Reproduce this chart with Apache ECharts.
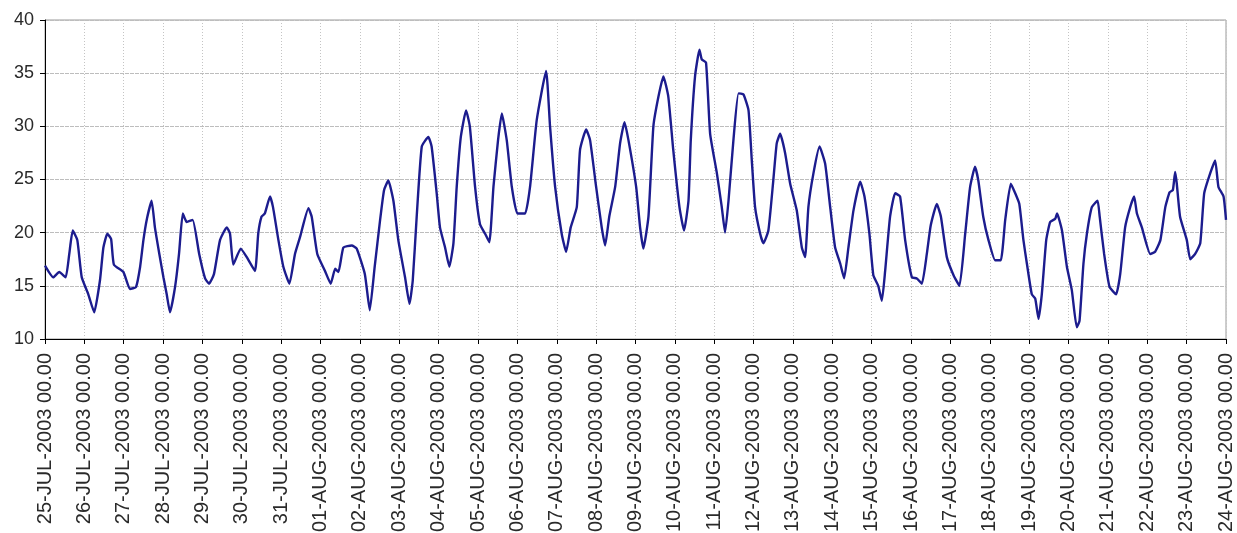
<!DOCTYPE html>
<html><head><meta charset="utf-8">
<script src="https://cdn.jsdelivr.net/npm/echarts@6/dist/echarts.min.js"></script>
<style>html,body{margin:0;padding:0;background:#fff}#c{width:1237px;height:533px}</style>
</head><body><div id="c"></div>
<script>
// hours since 25-JUL-2003 00.00
const hours = [0,5,8.7,12.6,14.8,16.9,19.7,22.4,26.4,30,33.5,35.6,38,40.3,42,47.8,51.8,55.5,58,60,62,65,67,69.7,72.2,74.2,76.2,79.3,81.7,84,86.4,90,94,97.6,100,103,106.7,110.8,112.8,114.8,119.3,
123,128,130,132,134,137.2,139,142.3,145.3,149,152.4,155.5,160.6,162.6,166,170.7,174.2,176.9,178.9,181.9,187,190,195,198,201,204.3,206.7,209.3,212.4,215.4,219.5,222.2,224.2,226.6,229.7,233.7,235.7,238.8,240.8,243.9,246.5,249,251,253.5,256.7,259,262.2,265.2,
268.3,270.9,273.4,276.2,278.5,281.5,284.6,288,292.7,295.7,299.8,305.5,307.9,311,315,317.7,320.5,324.2,326.2,329.9,332.3,336,339.4,341.5,344,347.6,350.6,353.3,355.7,360.4,362.8,364.8,367.9,370.9,374,377,380,383,386.8,389.6,392.3,393.7,396.3,399,400.4,403,405.5,409.6,412.6,
414.6,416.7,419.7,422.8,425.8,428.9,430.9,432.9,436,438,441,444,446.1,448.2,451.2,454.3,458.3,461.4,463.4,465.4,468.5,472.2,475.6,478.7,481.7,484.8,487.2,489.8,492.9,497,499.6,502.6,505,508,510.2,512.2,515.2,518.3,521.3,524.4,528.5,531.5,534.6,537.6,540,543.7,546.2,549.8,553.9,557.5,
561,564,567,569,572,575.2,579.3,582.7,585.4,588.8,591.5,594,596.5,598.6,601.6,603.7,605.7,607.7,610.4,612.8,615.9,617,620,623,626,629,630.7,633.1,635.2,638.2,641.7,643,645.7,649,653,655.5,658.5,661.6,664,665.7,668.7,673.8,676.8,680,683,685.6,687.6,689,690,692,696.1,698.2,701.2,704.3,706.7,710.4,713.4,715.4,718.5,720];
const temps = [16.9,15.8,16.3,15.8,18,20.2,19.3,15.8,14.2,12.5,15.5,18.6,19.9,19.4,17,16.3,14.7,14.9,16.8,19.3,21.2,23,20.5,18,15.8,14.2,12.5,14.9,18,21.8,21,21.2,18,15.7,15.2,16.1,19.3,20.5,19.9,17,18.5,
17.7,16.4,19.9,21.5,21.8,23.4,22.4,19.3,16.8,15.2,18,19.6,22.3,21.5,18,16.4,15.2,16.6,16.3,18.6,18.8,18.5,16.1,12.7,16.8,21.2,24,24.9,23,19.3,15.8,13.3,15.5,21.5,28.1,29,28.1,23.7,20.5,18.6,16.8,19,24.3,29,31.5,30,24.3,20.8,
19.9,19.1,24.3,28.7,31.2,28.7,24.3,21.8,21.8,24.3,30.6,35.2,30,24.3,19.9,18.2,20.5,22.4,27.8,29.7,28.7,24.3,20.5,18.8,21.5,24.3,28.4,30.4,28.7,24.3,20.5,18.5,21.5,30,32.8,34.7,32.8,27.8,22.4,20.2,23,28.7,34.7,37.2,36.3,36,29.3,25.6,22.4,
20,23,28.7,33.1,33,31.5,26.8,22.4,19.9,19,20.2,24.9,28.4,29.3,27.5,24.6,22.1,18.6,17.7,22.4,25.6,28.1,26.5,22.4,18.6,17.1,15.7,18.6,22.1,24.8,23.4,19.9,16,15,13.6,16.4,21.5,23.7,23.4,19.3,15.8,15.7,15.2,18,20.7,22.7,21.5,17.7,16,15,
19.9,24.3,26.2,24.9,21.5,19.3,17.4,17.4,21.2,24.6,23.7,22.7,19.3,17.1,14.2,13.8,11.9,14.2,19.3,21,21.3,21.8,20.2,16.8,14.6,11.1,11.7,17.1,19.9,22.4,23,21.5,18,14.9,14.2,16.1,20.5,22.4,23.4,21.8,20.5,18,18.2,19.3,22.4,23.8,24,25.7,24.6,21.5,19.3,17.5,18,19,23.7,25.6,26.8,24.3,23.4,21.2];
const dayLabels = ['25-JUL-2003 00.00','26-JUL-2003 00.00','27-JUL-2003 00.00','28-JUL-2003 00.00','29-JUL-2003 00.00','30-JUL-2003 00.00','31-JUL-2003 00.00',
'01-AUG-2003 00.00','02-AUG-2003 00.00','03-AUG-2003 00.00','04-AUG-2003 00.00','05-AUG-2003 00.00','06-AUG-2003 00.00','07-AUG-2003 00.00','08-AUG-2003 00.00',
'09-AUG-2003 00.00','10-AUG-2003 00.00','11-AUG-2003 00.00','12-AUG-2003 00.00','13-AUG-2003 00.00','14-AUG-2003 00.00','15-AUG-2003 00.00','16-AUG-2003 00.00',
'17-AUG-2003 00.00','18-AUG-2003 00.00','19-AUG-2003 00.00','20-AUG-2003 00.00','21-AUG-2003 00.00','22-AUG-2003 00.00','23-AUG-2003 00.00','24-AUG-2003 00.00'];

const chart = echarts.init(document.getElementById('c'));
chart.setOption({
  animation: false,
  grid: {left: 45, right: 11, top: 20, bottom: 194, outerBoundsMode: 'none', containLabel: false,
         show: true, borderColor: '#9a9a9a', borderWidth: 1},
  xAxis: {
    type: 'value', min: 0, max: 720, interval: 24,
    axisLine: {show: true, lineStyle: {color: '#000', width: 1}},
    axisTick: {show: true, length: 5, lineStyle: {color: '#000'}},
    axisLabel: {rotate: 90, margin: 14, color: '#2a2a2a', fontFamily: 'Liberation Sans, Arial', fontSize: 20,
      formatter: v => dayLabels[Math.round(v / 24)] || ''},
    splitLine: {show: true, lineStyle: {color: '#c4c4c4', type: [1, 2]}}
  },
  yAxis: {
    type: 'value', min: 10, max: 40, interval: 5,
    axisLine: {show: true, lineStyle: {color: '#000', width: 1}},
    axisTick: {show: true, length: 5, lineStyle: {color: '#000'}},
    axisLabel: {margin: 11, color: '#2a2a2a', fontFamily: 'Liberation Sans, Arial', fontSize: 18},
    splitLine: {show: true, lineStyle: {color: '#bdbdbd', type: [4, 1]}}
  },
  series: [{
    type: 'line', data: hours.map((h, i) => [h, temps[i]]),
    showSymbol: false, smooth: 0.15,
    lineStyle: {color: '#1c1c8e', width: 2.4}
  }]
});
</script></body></html>
